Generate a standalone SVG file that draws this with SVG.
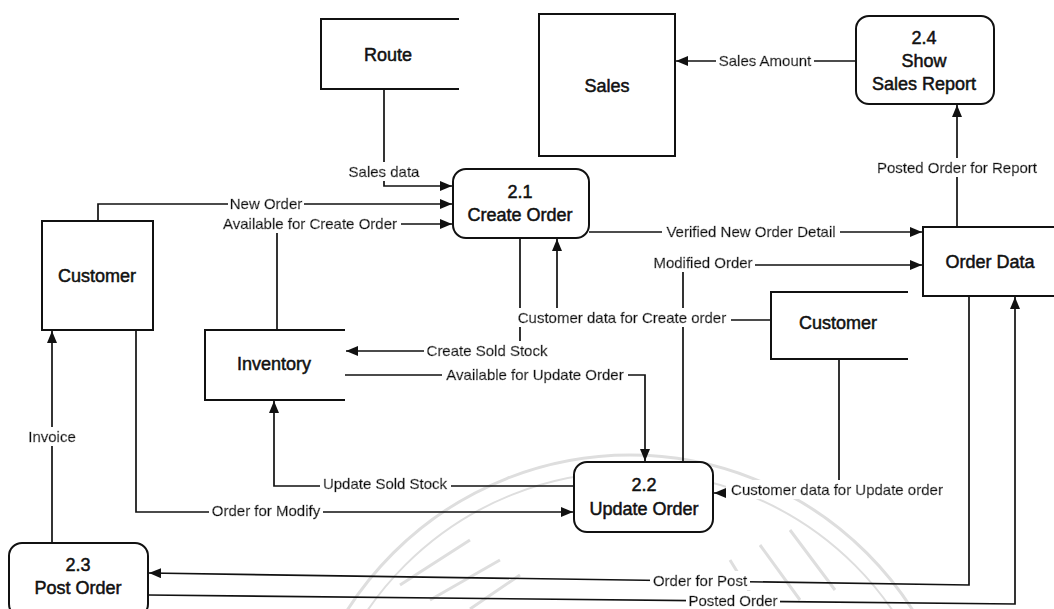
<svg xmlns="http://www.w3.org/2000/svg" width="1054" height="609" viewBox="0 0 1054 609">
  <defs>
    <marker id="arr" viewBox="0 0 12 10" refX="12" refY="5" markerWidth="12" markerHeight="10" markerUnits="userSpaceOnUse" orient="auto">
      <path d="M0,0 L12,5 L0,10 Z" fill="#111"/>
    </marker>
    <!-- white box behind a flow label so it interrupts the line it sits on -->
    <filter id="knockout" x="-0.02" y="-0.05" width="1.04" height="1.1">
      <feFlood flood-color="#fff"/>
      <feComposite in="SourceGraphic" operator="over"/>
    </filter>
    <style>
      .store { fill: #fff; stroke: #111; stroke-width: 2; }
      .open { fill: none; stroke: #111; stroke-width: 2; }
      .proc { fill: #fff; stroke: #111; stroke-width: 2; }
      .flow { fill: none; stroke: #111; stroke-width: 1.7; }
      .flow.a { marker-end: url(#arr); }
      .node { font-family: "Liberation Sans", Arial, sans-serif; font-size: 18px; fill: #111; text-anchor: middle; stroke: #111; stroke-width: 0.5; }
      .lbl { font-family: "Liberation Sans", Arial, sans-serif; font-size: 15px; fill: #111; text-anchor: middle; stroke: #111; stroke-width: 0.5; filter: url(#knockout); }
      .wm { fill: none; stroke: #dedede; }
    </style>
  </defs>
  <rect width="1054" height="609" fill="#fff"/>

  <!-- faint seal printed behind the chart -->
  <g id="seal">
    <circle class="wm" cx="630" cy="790" r="335" stroke-width="3"/>
    <circle class="wm" cx="630" cy="790" r="318" stroke-width="2"/>
    <path class="wm" stroke-width="3" d="M400,585 L470,540 M430,600 L500,560 M470,609 L520,575 M760,609 L730,560 M800,600 L760,545 M835,590 L790,530"/>
  </g>

  <!-- connectors -->
  <g id="connectors">
    <path class="flow a" d="M384,89 V186 H452"/>
    <path class="flow a" d="M98,221 V204 H452"/>
    <path class="flow a" d="M277,330 V224 H452"/>
    <path class="flow a" d="M589,232 H922"/>
    <path class="flow a" d="M683,462 V265 H922"/>
    <path class="flow a" d="M771,320 H557 V239"/>
    <path class="flow a" d="M520,238 V351 H346"/>
    <path class="flow a" d="M345,375 H645 V461"/>
    <path class="flow a" d="M574,486 H274 V401"/>
    <path class="flow a" d="M136,330 V512 H573"/>
    <path class="flow a" d="M839,359 V493 H714"/>
    <path class="flow a" d="M52,543 V331"/>
    <path class="flow a" d="M969,296 V585 L149,573"/>
    <path class="flow a" d="M148,595 L1015,604 V297"/>
    <path class="flow a" d="M957,227 V105"/>
    <path class="flow a" d="M856,61 H676"/>

    <text class="lbl" x="384" y="177">Sales data</text>
    <text class="lbl" x="266" y="209">New Order</text>
    <text class="lbl" x="310" y="229">Available for Create Order</text>
    <text class="lbl" x="751" y="237">Verified New Order Detail</text>
    <text class="lbl" x="703" y="268">Modified Order</text>
    <text class="lbl" x="622" y="323">Customer data for Create order</text>
    <text class="lbl" x="487" y="356">Create Sold Stock</text>
    <text class="lbl" x="535" y="380">Available for Update Order</text>
    <text class="lbl" x="385" y="489">Update Sold Stock</text>
    <text class="lbl" x="266" y="516">Order for Modify</text>
    <text class="lbl" x="837" y="495">Customer data for Update order</text>
    <text class="lbl" x="52" y="442">Invoice</text>
    <text class="lbl" x="700" y="586">Order for Post</text>
    <text class="lbl" x="733" y="606">Posted Order</text>
    <text class="lbl" x="957" y="173">Posted Order for Report</text>
    <text class="lbl" x="765" y="66">Sales Amount</text>
  </g>

  <!-- data stores and external entities -->
  <g id="route">
    <path class="open" d="M459,19 H321 V89 H459"/>
    <text class="node" x="388" y="61">Route</text>
  </g>
  <g id="sales">
    <rect class="store" x="539" y="14" width="136" height="142"/>
    <text class="node" x="607" y="92">Sales</text>
  </g>
  <g id="order-data">
    <path class="open" d="M1054,227 H923 V296 H1054"/>
    <text class="node" x="990" y="268">Order Data</text>
  </g>
  <g id="customer-left">
    <rect class="store" x="42" y="221" width="111" height="109"/>
    <text class="node" x="97" y="282">Customer</text>
  </g>
  <g id="inventory">
    <path class="open" d="M345,330 H205 V400 H345"/>
    <text class="node" x="274" y="370">Inventory</text>
  </g>
  <g id="customer-right">
    <path class="open" d="M908,292 H771 V359 H908"/>
    <text class="node" x="838" y="329">Customer</text>
  </g>

  <!-- processes -->
  <g id="p21">
    <rect class="proc" x="453" y="169" width="136" height="69" rx="13"/>
    <text class="node" x="520" y="198">2.1</text>
    <text class="node" x="520" y="221">Create Order</text>
  </g>
  <g id="p22">
    <rect class="proc" x="574" y="462" width="139" height="70" rx="13"/>
    <text class="node" x="644" y="491">2.2</text>
    <text class="node" x="644" y="515">Update Order</text>
  </g>
  <g id="p23">
    <rect class="proc" x="9" y="543" width="139" height="74" rx="13"/>
    <text class="node" x="78" y="571">2.3</text>
    <text class="node" x="78" y="594">Post Order</text>
  </g>
  <g id="p24">
    <rect class="proc" x="856" y="16" width="138" height="88" rx="13"/>
    <text class="node" x="924" y="44">2.4</text>
    <text class="node" x="924" y="67">Show</text>
    <text class="node" x="924" y="90">Sales Report</text>
  </g>
</svg>
